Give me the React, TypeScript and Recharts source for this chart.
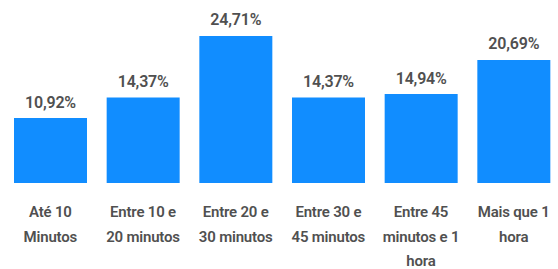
import React from 'react';
import { Bar, BarChart, LabelList, XAxis, YAxis } from 'recharts';

const categories = [
  'Até 10 Minutos',
  'Entre 10 e 20 minutos',
  'Entre 20 e 30 minutos',
  'Entre 30 e 45 minutos',
  'Entre 45 minutos e 1 hora',
  'Mais que 1 hora'
];

const tickLabels = [
  ['Até 10', 'Minutos'],
  ['Entre 10 e', '20 minutos'],
  ['Entre 20 e', '30 minutos'],
  ['Entre 30 e', '45 minutos'],
  ['Entre 45', 'minutos e 1', 'hora'],
  ['Mais que 1', 'hora']
];

const percentages = [10.92, 14.37, 24.71, 14.37, 14.94, 20.69];

const data = categories.map((name, i) => ({ name, value: percentages[i] }));

const FONT = 'Roboto, "Open Sans", sans-serif';
const TEXT = '#505050';

const CategoryTick = (props: any) => {
  const { x, y, index } = props;
  const lines = tickLabels[index] || [];
  return (
    <text
      x={x}
      y={y + 26}
      textAnchor="middle"
      fill={TEXT}
      fontFamily={FONT}
      fontSize={15}
      fontWeight={600}
      letterSpacing={-0.2}
    >
      {lines.map((line, i) => (
        <tspan key={i} x={x} dy={i === 0 ? 0 : 24.7}>
          {line}
        </tspan>
      ))}
    </text>
  );
};

const ValueLabel = (props: any) => {
  const { x, y, width, value } = props;
  return (
    <text
      x={x + width / 2}
      y={y - 10.5}
      textAnchor="middle"
      fill={TEXT}
      fontFamily={FONT}
      fontSize={16}
      fontWeight={600}
      letterSpacing={-0.2}
    >
      {value.toFixed(2).replace('.', ',')}%
    </text>
  );
};

export default function App() {
  return (
    <div
      style={{
        position: 'absolute',
        left: 0,
        top: 0,
        width: 558,
        height: 269,
        overflow: 'hidden',
        background: '#fff'
      }}
    >
      <BarChart
        width={561}
        height={269}
        data={data}
        margin={{ top: 4.5, right: 1, bottom: 0, left: 4 }}
        barCategoryGap={10}
      >
        <XAxis
          dataKey="name"
          axisLine={false}
          tickLine={false}
          interval={0}
          height={86}
          tick={<CategoryTick />}
        />
        <YAxis hide domain={[0, 30]} />
        <Bar dataKey="value" fill="#118DFF" isAnimationActive={false}>
          <LabelList dataKey="value" content={<ValueLabel />} />
        </Bar>
      </BarChart>
    </div>
  );
}
